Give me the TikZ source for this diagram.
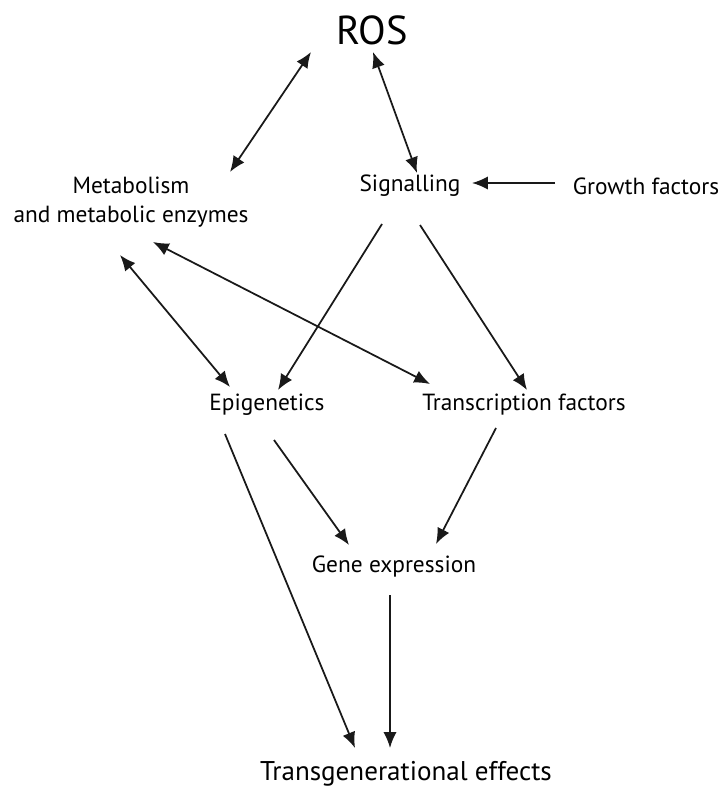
\documentclass[tikz,border=0pt]{standalone}
\usepackage{fontspec}
\setmainfont{PT Sans}
\usetikzlibrary{arrows.meta,calc}

\begin{document}
\begin{tikzpicture}[
  x=0.02cm, y=-0.02cm,
  font=\fontsize{13.3}{16.5}\selectfont,
  term/.style={inner sep=0pt, align=center},
  arr/.style={-{Latex[length=9pt,width=7.5pt]}, line width=1pt, black!90},
  biarr/.style={{Latex[length=9pt,width=7.5pt]}-{Latex[length=9pt,width=7.5pt]}, line width=1pt, black!90}
]
\useasboundingbox (0,0) rectangle (721,787);

% ---- top ----
\node[term, font=\fontsize{23}{27}\selectfont] (ros) at (372,30) {ROS};

% ---- second row ----
\node[term] (meta) at (131,202) {Metabolism\\and metabolic enzymes};
\node[term] (sig) at (410,186) {Signalling};
\node[term] (gf) at (646,186) {Growth factors};

% ---- third row ----
\node[term] (epi) at (267,405) {Epigenetics};
\node[term] (tf) at (524,405) {Transcription factors};

% ---- bottom ----
\node[term] (gene) at (394,567) {Gene expression};
\node[term, font=\fontsize{15.4}{18}\selectfont] (trans) at (406,774) {Transgenerational effects};

% ---- arrows ----
\draw[biarr] ($(ros)+(-61,22)$) -- ($(meta)+(99,-30)$);
\draw[biarr] ($(ros)+(1,22)$) -- ($(sig)+(7,-13)$);
\draw[arr] ($(gf)+(-91,-3)$) -- ($(sig)+(62,-3)$);
\draw[biarr] ($(meta)+(-11,53)$) -- ($(epi)+(-37,-18)$);
\draw[biarr] ($(meta)+(22,40)$) -- ($(tf)+(-94,-21)$);
\draw[arr] ($(sig)+(-28,38)$) -- ($(epi)+(11,-15)$);
\draw[arr] ($(sig)+(10,39)$) -- ($(tf)+(3,-15)$);
\draw[arr] ($(epi)+(7,35)$) -- ($(gene)+(-45,-22)$);
\draw[arr] ($(tf)+(-28,23)$) -- ($(gene)+(42,-23)$);
\draw[arr] ($(epi)+(-42,29)$) -- ($(trans)+(-51,-26)$);
\draw[arr] ($(gene)+(-4,28)$) -- ($(trans)+(-16,-26)$);
\end{tikzpicture}
\end{document}
